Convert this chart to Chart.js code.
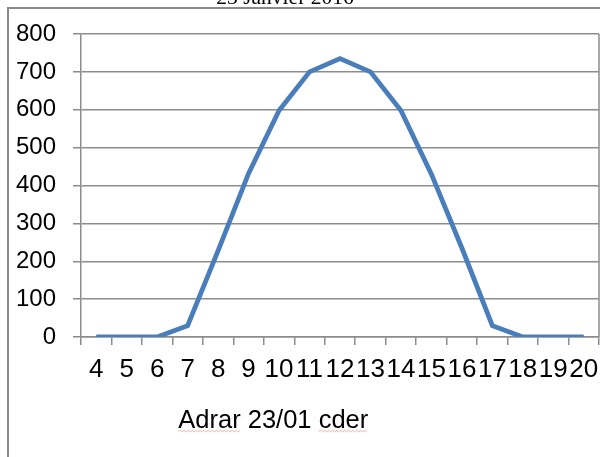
<!DOCTYPE html>
<html>
<head>
<meta charset="utf-8">
<script src="https://cdn.jsdelivr.net/npm/chart.js@4/dist/chart.umd.min.js"></script>
<style>
  html, body { margin: 0; padding: 0; background: #fff; }
  canvas { display: block; }
</style>
</head>
<body>
<canvas id="c" width="600" height="457"></canvas>
<script>
// ---- data ----
const hours = ['4','5','6','7','8','9','10','11','12','13','14','15','16','17','18','19','20'];
const irradiance = [0, 0, 0, 30, 228, 432, 598, 700, 735, 700, 598, 430, 235, 30, 0, 0, 0];
const yMin = 0;
const yMax = 800;
const yStep = 100;
const chartTitle = '23 Janvier 2016';
const axisTitle = 'Adrar 23/01 cder';

const GRID = '#8c8c8c';

const decor = {
  id: 'decor',
  beforeDraw(chart) {
    const ctx = chart.ctx;
    ctx.save();
    ctx.fillStyle = '#fff';
    ctx.fillRect(0, 0, chart.width, chart.height);
    // outer frame
    ctx.strokeStyle = '#8a8a8a';
    ctx.lineWidth = 2;
    ctx.beginPath();
    ctx.moveTo(8, 457);
    ctx.lineTo(8, 8);
    ctx.lineTo(600, 8);
    ctx.stroke();
    ctx.restore();
  },
  afterDraw(chart) {
    const ctx = chart.ctx;
    const a = chart.chartArea;
    ctx.save();
    // right border of the plot area
    ctx.strokeStyle = GRID;
    ctx.lineWidth = 1.5;
    ctx.beginPath();
    ctx.moveTo(a.right, a.top);
    ctx.lineTo(a.right, a.bottom);
    ctx.stroke();
    // title (cut at the top)
    ctx.fillStyle = '#000';
    ctx.font = '21.5px "Liberation Serif", "Times New Roman", serif';
    ctx.textAlign = 'center';
    ctx.textBaseline = 'alphabetic';
    ctx.fillText(chartTitle, 285, 4);
    // axis title
    ctx.font = '25.5px "Liberation Sans", Arial, sans-serif';
    ctx.textAlign = 'left';
    const tx = 178.3, ty = 428.3;
    ctx.fillText(axisTitle, tx, ty);
    // spell-check squiggles
    const words = axisTitle.split(' ');
    const first = words[0];
    const last = words[words.length - 1];
    const w1 = ctx.measureText(first).width;
    const fullW = ctx.measureText(axisTitle).width;
    const wl = ctx.measureText(last).width;
    ctx.strokeStyle = 'rgba(235,110,110,0.55)';
    ctx.lineWidth = 1;
    const squig = (x0, x1, y) => {
      ctx.beginPath();
      let up = true;
      ctx.moveTo(x0, y);
      for (let x = x0 + 2; x <= x1; x += 2) {
        ctx.lineTo(x, up ? y - 1 : y + 0.5);
        up = !up;
      }
      ctx.stroke();
    };
    squig(tx, tx + w1, ty + 3);
    squig(tx + fullW - wl, tx + fullW, ty + 3);
    ctx.restore();
  }
};

new Chart(document.getElementById('c'), {
  type: 'line',
  data: {
    labels: hours,
    datasets: [{
      data: irradiance,
      borderColor: '#4a7ebb',
      borderWidth: 4.8,
      pointRadius: 0,
      pointHoverRadius: 0,
      tension: 0,
      fill: false
    }]
  },
  options: {
    responsive: false,
    animation: false,
    devicePixelRatio: 1,
    layout: { padding: { top: 34, right: 1, left: 0, bottom: 0 } },
    plugins: {
      legend: { display: false },
      title: { display: false },
      tooltip: { enabled: false }
    },
    scales: {
      x: {
        type: 'category',
        offset: true,
        afterFit(s) { s.height = 120; s.paddingLeft = 0; s.paddingRight = 0; },
        grid: {
          offset: true,
          drawOnChartArea: false,
          drawTicks: true,
          tickLength: 8,
          color: GRID,
          tickColor: GRID,
          lineWidth: 1.5
        },
        border: { display: true, color: GRID, width: 1.5 },
        ticks: {
          autoSkip: false,
          maxRotation: 0,
          minRotation: 0,
          padding: 9,
          color: '#000',
          font: { family: '"Liberation Sans", Arial, sans-serif', size: 26 }
        }
      },
      y: {
        min: yMin,
        max: yMax,
        afterFit(s) { s.width = 81; s.paddingTop = 0; s.paddingBottom = 0; },
        grid: {
          drawTicks: true,
          tickLength: 8,
          color: GRID,
          tickColor: GRID,
          lineWidth: 1.5
        },
        border: { display: true, color: GRID, width: 1.5 },
        ticks: {
          stepSize: yStep,
          padding: 17,
          color: '#000',
          font: { family: '"Liberation Sans", Arial, sans-serif', size: 24 }
        }
      }
    }
  },
  plugins: [decor]
});
</script>
</body>
</html>
